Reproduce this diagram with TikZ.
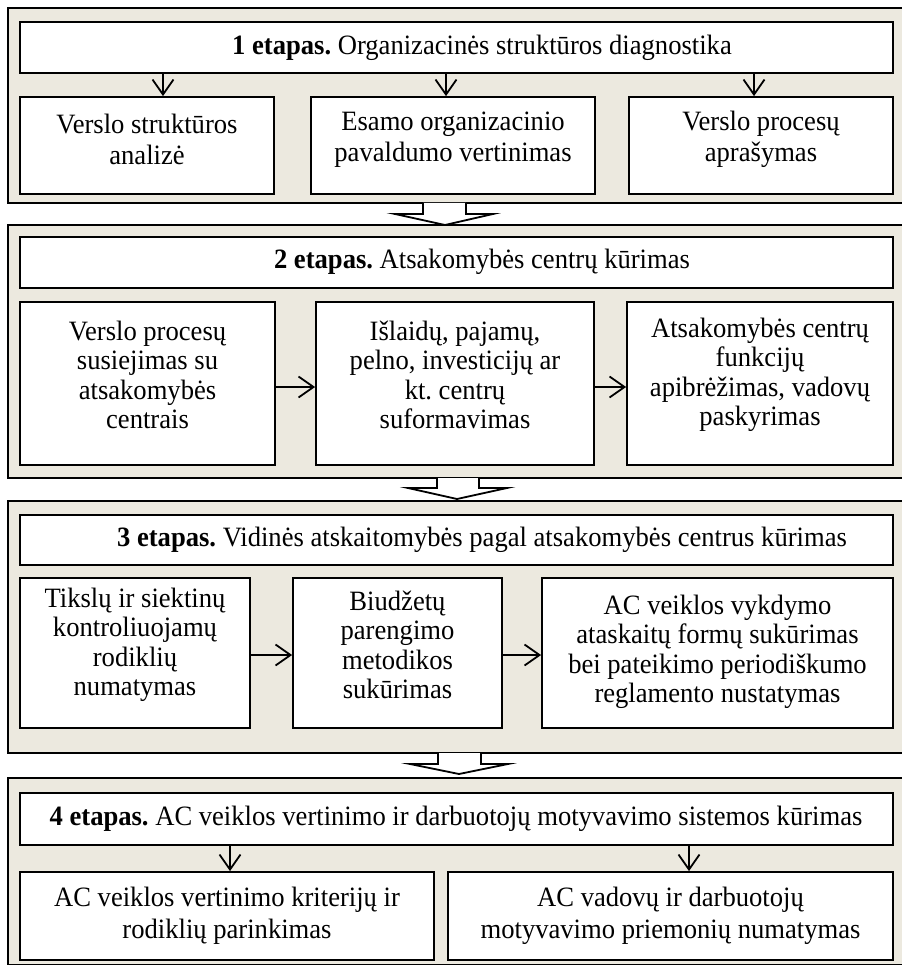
\documentclass[tikz,border=0pt]{standalone}
\usepackage{fontspec}
\setmainfont{Liberation Serif}[FakeStretch=0.95]
\usetikzlibrary{arrows.meta,fit}
\definecolor{stagebg}{HTML}{ECE9DF}
\frenchspacing
\begin{document}
\begin{tikzpicture}[x=1pt,y=-1pt,
  stagebox/.style={draw=black, line width=2.5pt, fill=stagebg, inner sep=0pt},
  itembox/.style={draw=black, line width=1.8pt, fill=white, inner sep=0pt},
  txt/.style={font=\fontsize{28}{29.5}\selectfont, align=center, inner sep=0pt},
  txtwide/.style={font=\fontsize{28}{31.5}\selectfont, align=center, inner sep=0pt},
  arr/.style={line width=1.8pt, -{Straight Barb[length=15pt,width=21pt,line width=1.8pt]}},
  blockarr/.style={draw=black, line width=1.8pt, fill=white, line join=miter}
]
\useasboundingbox (0,0) rectangle (901,965);

% ---------- stage 1 ----------
\node[stagebox, fit={(8,8)(904,203)}] (s1) {};
\node[itembox, fit={(20,22)(893,73)}] (h1) {};
\node[txt] (th1) at (482,48) {\textbf{1 etapas.} Organizacinės struktūros diagnostika};
\node[itembox, fit={(20,97)(274,194)}] (b11) {};
\node[itembox, fit={(311,97)(595,194)}] (b12) {};
\node[itembox, fit={(629,97)(893,194)}] (b13) {};
\node[txtwide] (t11) at (147,139.5) {Verslo struktūros\\analizė};
\node[txtwide] (t12) at (453,139.5) {Esamo organizacinio\\pavaldumo vertinimas};
\node[txtwide] (t13) at (761,139.5) {Verslo procesų\\aprašymas};
\coordinate (a11) at (163,0);
\coordinate (a12) at (446,0);
\coordinate (a13) at (754,0);
\draw[arr] (h1.south -| a11) -- (b11.north -| a11);
\draw[arr] (h1.south -| a12) -- (b12.north -| a12);
\draw[arr] (h1.south -| a13) -- (b13.north -| a13);

% ---------- stage 2 ----------
\node[stagebox, fit={(8,225)(904,478)}] (s2) {};
\node[itembox, fit={(20,237)(893,288)}] (h2) {};
\node[txt] (th2) at (482,262) {\textbf{2 etapas.} Atsakomybės centrų kūrimas};
\node[itembox, fit={(20,302)(275,465)}] (b21) {};
\node[itembox, fit={(316,302)(594,465)}] (b22) {};
\node[itembox, fit={(627,302)(893,465)}] (b23) {};
\node[txt] (t21) at (147.5,375) {Verslo procesų\\susiejimas su\\atsakomybės\\centrais};
\node[txt] (t22) at (455,375) {Išlaidų, pajamų,\\pelno, investicijų ar\\kt. centrų\\suformavimas};
\node[txt] (t23) at (760,375) {Atsakomybės centrų\\funkcijų\\apibrėžimas, vadovų\\paskyrimas};
\coordinate (r2) at (0,387);
\draw[arr] (b21.east |- r2) -- (b22.west |- r2);
\draw[arr] (b22.east |- r2) -- (b23.west |- r2);

% ---------- stage 3 ----------
\node[stagebox, fit={(8,501)(904,753)}] (s3) {};
\node[itembox, fit={(20,515)(893,565)}] (h3) {};
\node[txt] (th3) at (482,540) {\textbf{3 etapas.} Vidinės atskaitomybės pagal atsakomybės centrus kūrimas};
\node[itembox, fit={(20,578)(250,728)}] (b31) {};
\node[itembox, fit={(293,578)(502,728)}] (b32) {};
\node[itembox, fit={(542,578)(893,728)}] (b33) {};
\node[txt] (t31) at (135,645) {Tikslų ir siektinų\\kontroliuojamų\\rodiklių\\numatymas};
\node[txt] (t32) at (397.5,645) {Biudžetų\\parengimo\\metodikos\\sukūrimas};
\node[txt] (t33) at (717.5,652) {AC veiklos vykdymo\\ataskaitų formų sukūrimas\\bei pateikimo periodiškumo\\reglamento nustatymas};
\coordinate (r3) at (0,655);
\draw[arr] (b31.east |- r3) -- (b32.west |- r3);
\draw[arr] (b32.east |- r3) -- (b33.west |- r3);

% ---------- stage 4 ----------
\node[stagebox, fit={(8,778)(904,965)}] (s4) {};
\node[itembox, fit={(20,793)(893,845)}] (h4) {};
\node[txt] (th4) at (456,819) {\textbf{4 etapas.} AC veiklos vertinimo ir darbuotojų motyvavimo sistemos kūrimas};
\node[itembox, fit={(20,872)(434,960)}] (b41) {};
\node[itembox, fit={(448,872)(893,960)}] (b42) {};
\node[txtwide] (t41) at (227,916) {AC veiklos vertinimo kriterijų ir\\rodiklių parinkimas};
\node[txtwide] (t42) at (670.5,916) {AC vadovų ir darbuotojų\\motyvavimo priemonių numatymas};
\coordinate (a41) at (230,0);
\coordinate (a42) at (689,0);
\draw[arr] (h4.south -| a41) -- (b41.north -| a41);
\draw[arr] (h4.south -| a42) -- (b42.north -| a42);

% ---------- block arrows between stages ----------
\draw[blockarr] (423,203) -- (423,214) -- (395,214) -- (445,225) -- (493,214) -- (466,214) -- (466,203);
\draw[blockarr] (437,478) -- (437,488) -- (408,488) -- (457,499) -- (507,488) -- (479,488) -- (479,478);
\draw[blockarr] (438,753) -- (438,764) -- (410,764) -- (459,774) -- (508,764) -- (481,764) -- (481,753);
\end{tikzpicture}
\end{document}
